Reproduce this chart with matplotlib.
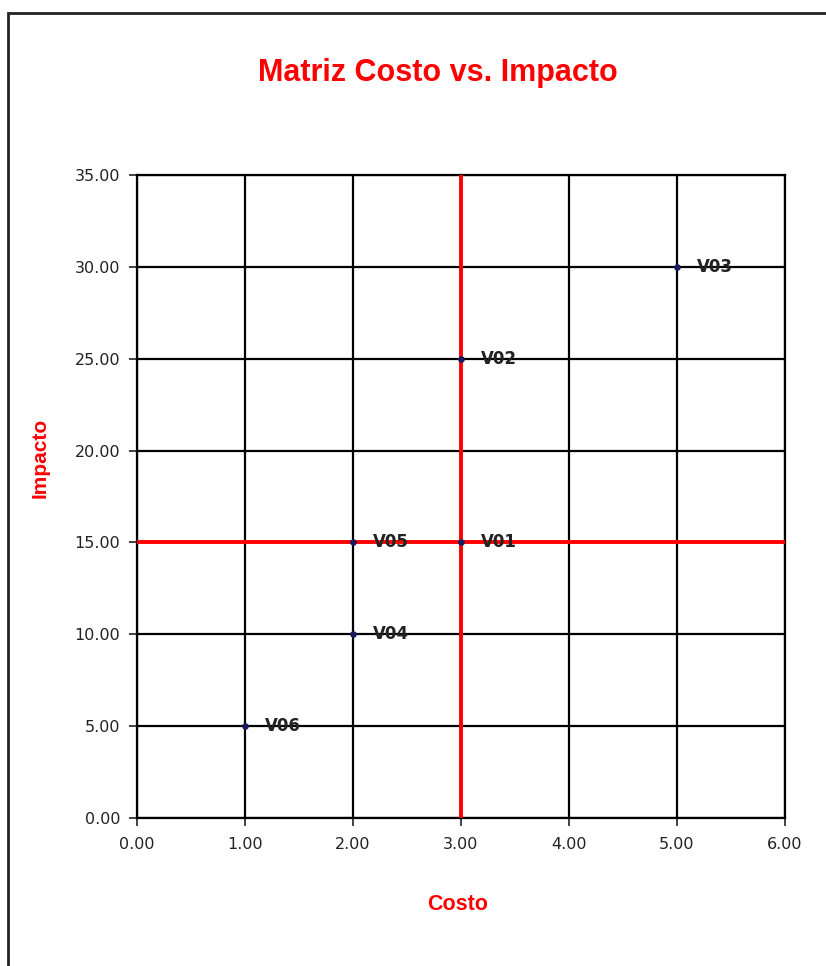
import matplotlib.pyplot as plt
from matplotlib.patches import Rectangle

plt.rcParams['font.family'] = ['Liberation Sans', 'DejaVu Sans']

nombres = ['V01', 'V02', 'V03', 'V04', 'V05', 'V06']
costo = [3, 3, 5, 2, 2, 1]
impacto = [15, 25, 30, 10, 15, 5]
corte_costo = 3
corte_impacto = 15

fig = plt.figure(figsize=(8.26, 9.66), dpi=100)
fig.patches.append(Rectangle((8 / 826, -0.05), 1.1, 1 - 13 / 966 + 0.05,
                             transform=fig.transFigure, fill=False,
                             edgecolor='#222222', linewidth=2))

ax = fig.add_axes([137 / 826, 1 - 818 / 966, 648 / 826, 643 / 966])
ax.set_xlim(0, 6)
ax.set_ylim(0, 35)
ax.set_xticks(range(0, 7))
ax.set_yticks(range(0, 36, 5))
ax.xaxis.set_major_formatter(lambda v, p: f'{v:.2f}')
ax.yaxis.set_major_formatter(lambda v, p: f'{v:.2f}')
ax.grid(True, color='black', linewidth=1.6)
ax.set_axisbelow(True)
for s in ax.spines.values():
    s.set_color('black')
    s.set_linewidth(1.6)
ax.tick_params(direction='out', length=6, width=1.2, colors='#222222')
ax.tick_params(axis='y', pad=6)
ax.tick_params(axis='x', pad=8)
for lab in ax.get_xticklabels() + ax.get_yticklabels():
    lab.set_fontfamily('DejaVu Sans')
    lab.set_fontsize(11.5)

ax.axvline(corte_costo, color='#ff0000', linewidth=2.8, zorder=3)
ax.axhline(corte_impacto, color='#ff0000', linewidth=2.8, zorder=3)

ax.scatter(costo, impacto, s=14, color='#1a1a5e', zorder=4)
for n, x, y in zip(nombres, costo, impacto):
    ax.annotate(n, (x, y), xytext=(14, 0), textcoords='offset points',
                va='center', ha='left', fontsize=12, fontweight='bold',
                fontfamily='DejaVu Sans', color='#222222', zorder=5)

fig.text(438 / 826, 1 - 73 / 966, 'Matriz Costo vs. Impacto', color='#ff0000',
         fontsize=22, fontweight='bold', ha='center', va='center')
fig.text(458 / 826, 1 - 905 / 966, 'Costo', color='#ff0000',
         fontsize=15.5, fontweight='bold', ha='center', va='center')
fig.text(40 / 826, 1 - 458 / 966, 'Impacto', color='#ff0000', rotation=90,
         fontsize=15, fontweight='bold', ha='center', va='center')

fig.savefig('out.png', dpi=100)
